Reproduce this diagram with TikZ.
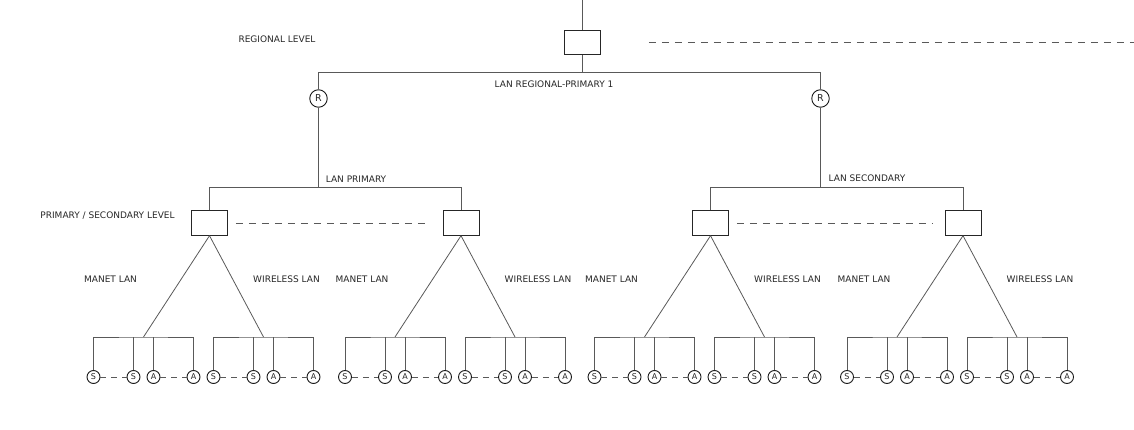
\documentclass[tikz,border=0pt]{standalone}
\usepackage{fontspec}
\setmainfont{DejaVu Sans}
\usepackage{tikz}
\usetikzlibrary{positioning}

\begin{document}
\begin{tikzpicture}[x=1pt, y=-1pt,
	every node/.style={font=\fontsize{9}{11}\selectfont, text=black!85},
	link/.style={draw=black!65, line width=0.8pt},
	gap/.style={draw=black!65, line width=0.8pt, dash pattern=on 7pt off 6pt},
	unit/.style={draw=black!85, line width=0.9pt, minimum width=36pt, minimum height=24.5pt, inner sep=0pt},
	router/.style={circle, draw=black!90, line width=0.9pt, minimum size=17.5pt, inner sep=0pt, font=\fontsize{9.5}{11}\selectfont},
	host/.style={circle, draw=black!90, line width=0.9pt, minimum size=13pt, inner sep=0pt, font=\fontsize{8}{9}\selectfont}]
	\useasboundingbox (0,0) rectangle (1134,430);

	% regional level
	\coordinate (feed) at (582.5,0);
	\node[unit] (reg) at (582.5,42.5) {};
	\coordinate (far) at (1134,42.5);
	\node (regtxt) at (277,39) {REGIONAL LEVEL};
	\draw[link] (feed) -- (reg);
	\draw[gap, shorten <=48pt] (reg) -- (far);

	\coordinate (bus0) at (582.5,72.5);
	\node[router] (r1) at (318.5,98.5) {R};
	\node[router] (r2) at (820.5,98.5) {R};
	\draw[link] (reg) -- (bus0);
	\draw[link] (r1.north) |- (bus0) -| (r2.north);
	\node (lan0) at (554,84) {LAN REGIONAL-PRIMARY 1};

	% primary / secondary level
	\node (pstxt) at (107.5,216) {PRIMARY / SECONDARY LEVEL};
	\foreach \c [count=\i] in {209.5,461,710.5,963}{
		\node[unit] (p\i) at (\c,223) {};
		\node (mtxt\i) at ({\c-99},279) {MANET LAN};
		\node (wtxt\i) at ({\c+77},279) {WIRELESS LAN};
		\foreach \side/\dx in {m/-116, w/4}{
			\coordinate (\side hub\i) at ({\c+(\dx)+50},337);
			\foreach \k/\x/\t in {1/0/S, 2/40/S, 3/60/A, 4/100/A}
				\node[host] (\side\i\k) at ({\c+(\dx)+\x},377) {\t};
			\draw[link] (p\i.south) -- (\side hub\i);
			\draw[link] (\side\i1.north) |- (\side hub\i) -| (\side\i4.north);
			\draw[link] (\side\i2.north) -- (\side\i2.north |- \side hub\i);
			\draw[link] (\side\i3.north) -- (\side\i3.north |- \side hub\i);
			\draw[gap, dash pattern=on 6pt off 5pt] (\side\i1) -- (\side\i2);
			\draw[gap, dash pattern=on 6pt off 5pt] (\side\i3) -- (\side\i4);
		}
	}

	\coordinate (bus1) at (318.5,187.5);
	\coordinate (bus2) at (820.5,187.5);
	\draw[link] (r1) -- (bus1);
	\draw[link] (r2) -- (bus2);
	\draw[link] (p1.north) |- (bus1) -| (p2.north);
	\draw[link] (p3.north) |- (bus2) -| (p4.north);
	\node (lan1) at (356,179) {LAN PRIMARY};
	\node (lan2) at (867,178.5) {LAN SECONDARY};
	\draw[gap, shorten <=8pt, shorten >=12pt] (p1) -- (p2);
	\draw[gap, shorten <=8pt, shorten >=12pt] (p3) -- (p4);
\end{tikzpicture}
\end{document}
